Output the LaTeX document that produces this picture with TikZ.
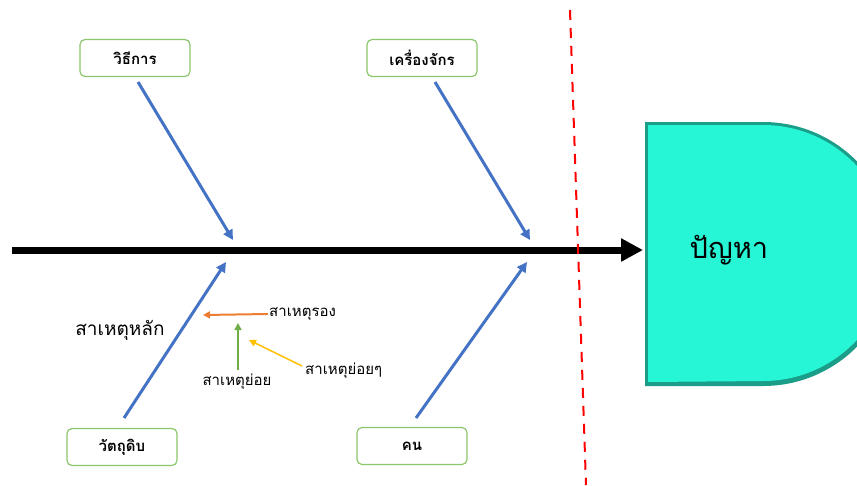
\documentclass[tikz,border=0pt]{standalone}
\usepackage{fontspec}
\newfontfamily\thaifont[Script=Thai]{Loma}
\usetikzlibrary{arrows.meta}
\definecolor{boxgreen}{HTML}{8CC66C}
\definecolor{arrblue}{HTML}{4472C4}
\definecolor{arrorange}{HTML}{ED7D31}
\definecolor{arrgreen}{HTML}{70AD47}
\definecolor{arryellow}{HTML}{FFC000}
\definecolor{probfill}{HTML}{26F5D6}
\definecolor{probedge}{HTML}{1A9E8A}
\tikzset{
  catbox/.style={draw=boxgreen, line width=1.2pt, rounded corners=5pt, fill=white,
    minimum width=110pt, minimum height=37pt, font=\thaifont\bfseries\fontsize{15}{17}\selectfont},
  bone/.style={draw=arrblue, line width=3pt, -{Triangle[length=10pt,width=10pt]}},
  lbl/.style={font=\thaifont\fontsize{15}{17}\selectfont, inner sep=1pt}
}
\begin{document}
\begin{tikzpicture}[x=1pt,y=-1pt]
\useasboundingbox (0,0) rectangle (857,485);
% problem shape
\begin{scope}
\clip (0,0) rectangle (857,485);
\fill[probedge] (645,122) -- (763,122) arc[start angle=-90,end angle=90,radius=132] -- (645,386) -- cycle;
\fill[probfill] (648,125) -- (763,125) arc[start angle=-90,end angle=90,radius=128] -- (648,382) -- cycle;
\end{scope}
\node[font=\thaifont\fontsize{29}{32}\selectfont] (prob) at (729,250) {ปัญหา};
% spine
\coordinate (tail) at (12,250);
\coordinate (head) at (643,250);
\draw[line width=7pt, -{Triangle[length=22pt,width=22pt]}] (tail) -- (head);
% red dashed
\coordinate (r1) at (570,10);
\coordinate (r2) at (586,485);
\draw[red, line width=2pt, dash pattern=on 10pt off 8pt] (r1) -- (r2);
% boxes
\node[catbox] (meth) at (135,58) {วิธีการ};
\node[catbox] (mach) at (422,58) {เครื่องจักร};
\node[catbox] (mat) at (122,447) {วัตถุดิบ};
\node[catbox] (man) at (412,446) {คน};
% bone endpoints
\coordinate (m1) at (138,82);
\coordinate (m2) at (233,240);
\coordinate (k1) at (435,82);
\coordinate (k2) at (530,240);
\coordinate (d1) at (124,418);
\coordinate (d2) at (226,262);
\coordinate (c1) at (416,418);
\coordinate (c2) at (527,262);
\draw[bone] (m1) -- (m2);
\draw[bone] (k1) -- (k2);
\draw[bone] (d1) -- (d2);
\draw[bone] (c1) -- (c2);
% labels
\node[font=\thaifont\fontsize{19}{22}\selectfont] (main) at (120,330) {สาเหตุหลัก};
\node[lbl, anchor=west] (sec) at (268,314) {สาเหตุรอง};
\node[lbl] (sub) at (237,382) {สาเหตุย่อย};
\node[lbl, anchor=west] (subsub) at (304,371) {สาเหตุย่อยๆ};
\coordinate (o2) at (203,315);
\coordinate (g1) at (238,370);
\coordinate (g2) at (238,323);
\coordinate (y1) at (302,366);
\coordinate (y2) at (249,340);
\draw[arrorange, line width=2pt, -{Triangle[length=7pt,width=7pt]}] (sec.west) -- (o2);
\draw[arrgreen, line width=1.5pt, -{Triangle[length=7pt,width=7pt]}] (g1) -- (g2);
\draw[arryellow, line width=1.5pt, -{Triangle[length=7pt,width=7pt]}] (y1) -- (y2);
\end{tikzpicture}
\end{document}
